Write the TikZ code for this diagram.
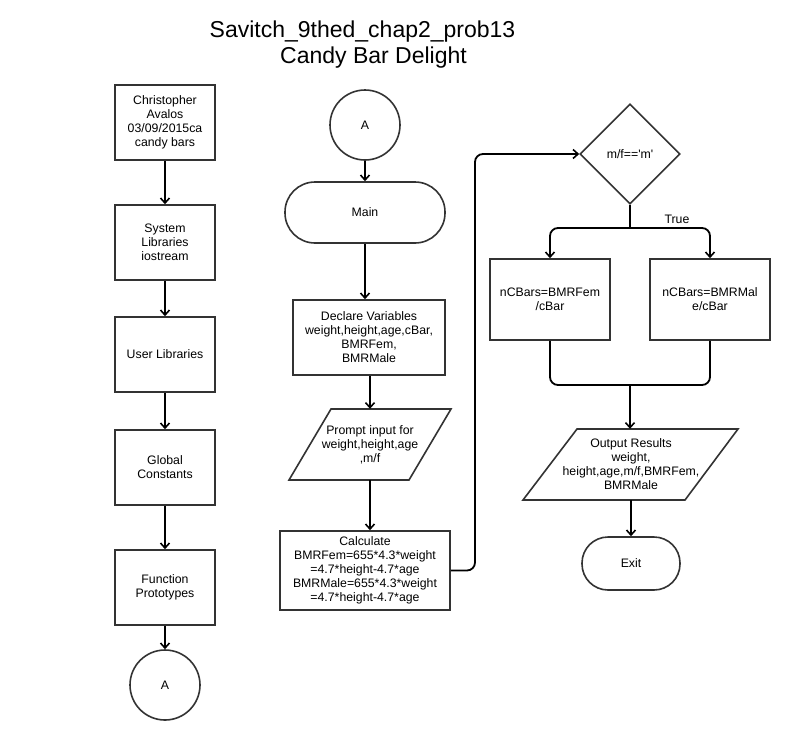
\documentclass[tikz,border=0pt]{standalone}
\usepackage{fontspec}
\setmainfont{Liberation Sans}
% same face without the TeX quote mapping, for straight apostrophes
\newfontfamily\plainsans{Liberation Sans}
\usetikzlibrary{arrows.meta,shapes.geometric}
\definecolor{edgegray}{HTML}{333333}
\begin{document}
\begin{tikzpicture}[x=1pt,y=-1pt,
  txt/.style={font=\fontsize{12.3}{14}\selectfont, align=center, text=black},
  titletxt/.style={font=\fontsize{23}{26}\selectfont, text=black},
  boxline/.style={draw=edgegray, line width=1.6pt, fill=white},
  procbox/.style={boxline, txt, rectangle, inner sep=0pt},
  termbox/.style={boxline, txt, rectangle, inner sep=0pt},
  connector/.style={boxline, txt, circle, minimum size=70pt, inner sep=0pt},
  decision/.style={boxline, txt, diamond, aspect=1, minimum size=100pt, inner sep=0pt},
  iotext/.style={txt, rectangle, inner sep=0pt},
  flow/.style={draw=black, line width=1.8pt, rounded corners=8pt,
    -{Straight Barb[length=5pt,width=9pt,line width=1.6pt]}},
  merge/.style={draw=black, line width=1.8pt, rounded corners=8pt}
]
\useasboundingbox (0,0) rectangle (811,740);
\fill[white] (0,0) rectangle (811,740);

% title
\node[titletxt] (title) at (362.5,32) {Savitch\_9thed\_chap2\_prob13};
\node[titletxt] (subtitle) at (373.5,58) {Candy Bar Delight};

% left column: program header
\node[procbox, minimum width=100pt, minimum height=75pt] (info) at (165,122.5)
  {Christopher\\Avalos\\03/09/2015ca\\candy bars};
\node[procbox, minimum width=100pt, minimum height=75pt] (syslib) at (165,242.5)
  {System\\Libraries\\iostream};
\node[procbox, minimum width=100pt, minimum height=75pt] (usrlib) at (165,354.5)
  {User Libraries};
\node[procbox, minimum width=100pt, minimum height=75pt] (globals) at (165,467.5)
  {Global\\Constants};
\node[procbox, minimum width=100pt, minimum height=75pt] (protos) at (165,587.5)
  {Function\\Prototypes};
\node[connector] (connA) at (165,685) {A};

\draw[flow] (info) -- (syslib);
\draw[flow] (syslib) -- (usrlib);
\draw[flow] (usrlib) -- (globals);
\draw[flow] (globals) -- (protos);
\draw[flow] (protos) -- (connA);

% middle column: main
\node[connector] (startA) at (365,125) {A};
\node[termbox, minimum width=160pt, minimum height=61pt, rounded corners=30pt] (main) at (365,212.5) {Main};
\node[procbox, minimum width=152pt, minimum height=75pt] (decl) at (369,337.5)
  {Declare Variables\\weight,height,age,cBar,\\BMRFem,\\BMRMale};
\draw[boxline] (331,409) -- (451,409) -- (409,480) -- (289,480) -- cycle;
\node[iotext, minimum width=120pt, minimum height=71pt] (prompt) at (370,444.5)
  {Prompt input for\\weight,height,age\\,m/f};
\node[procbox, minimum width=170pt, minimum height=79pt] (calc) at (365,570.5)
  {Calculate\\BMRFem=655*4.3*weight\\=4.7*height-4.7*age\\BMRMale=655*4.3*weight\\=4.7*height-4.7*age};

\draw[flow] (startA) -- (main);
\draw[flow] (main.south) -- (main.south |- decl.north);
\draw[flow] (prompt.north |- decl.south) -- (prompt.north);
\draw[flow] (prompt.south) -- (prompt.south |- calc.north);

% right column: decision and output
\node[decision] (test) at (630,154) {\plainsans m/f=='m'};
\node[procbox, minimum width=120pt, minimum height=81pt] (fem) at (550,299.5)
  {nCBars=BMRFem\\/cBar};
\node[procbox, minimum width=120pt, minimum height=81pt] (male) at (710,299.5)
  {nCBars=BMRMal\\e/cBar};
\draw[boxline] (577,429) -- (738,429) -- (685,500) -- (523,500) -- cycle;
\node[iotext, minimum width=161pt, minimum height=71pt] (output) at (631,464.5)
  {Output Results\\weight,\\height,age,m/f,BMRFem,\\BMRMale};
\node[termbox, minimum width=98pt, minimum height=53pt, rounded corners=26pt] (exit) at (631,563.5) {Exit};
\node[txt] (truelbl) at (677,219) {True};

\coordinate (split) at (630,228);
\coordinate (join) at (630,385);

\draw[flow] (calc.east) -- (475,570.5) -- (475,154) -- (test.west);
\draw[merge] (test.south) -- (split);
\draw[flow] (split) -- (split -| fem) -- (fem.north);
\draw[flow] (split) -- (split -| male) -- (male.north);
\draw[merge] (fem.south) -- (fem.south |- join) -- (join);
\draw[merge] (male.south) -- (male.south |- join) -- (join);
\draw[flow] (join) -- (join |- output.north);
\draw[flow] (output.south) -- (output.south |- exit.north);
\end{tikzpicture}
\end{document}
